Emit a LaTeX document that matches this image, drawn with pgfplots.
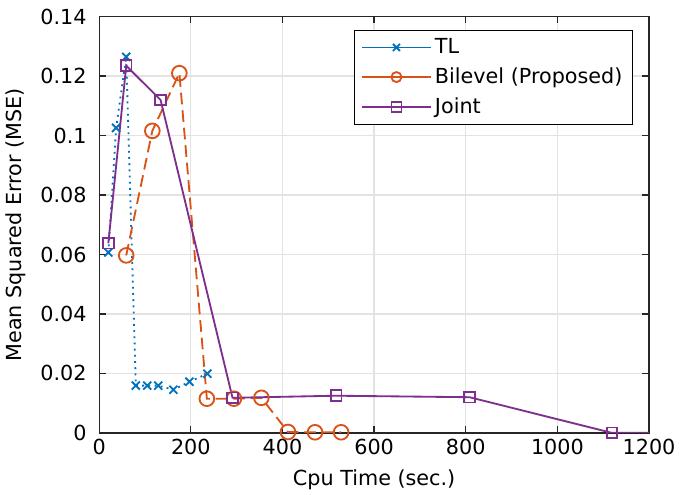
\documentclass[border=0pt]{standalone}
\usepackage{fontspec}
\setmainfont{DejaVu Sans}
\usepackage{pgfplots}
\pgfplotsset{compat=1.18}

\definecolor{mblue}{rgb}{0,0.447,0.741}
\definecolor{morange}{rgb}{0.85,0.325,0.098}
\definecolor{mpurple}{rgb}{0.494,0.184,0.556}

\begin{document}
\begin{tikzpicture}
  \begin{axis}[
    scale only axis,
    width=329pt, height=249pt,
    xmin=0, xmax=1200, ymin=0, ymax=0.14,
    xtick={0,200,...,1200},
    ytick={0,0.02,0.04,0.06,0.08,0.1,0.12,0.14},
    scaled y ticks=false,
    /pgf/number format/assume math mode=true,
    ticklabel style={font=\fontsize{12.4}{14}\selectfont},
    yticklabel style={xshift=-4pt, /pgf/number format/.cd, fixed, precision=2},
    xticklabel style={/pgf/number format/.cd, 1000 sep={}},
    label style={font=\fontsize{12.4}{14}\selectfont},
    xlabel={Cpu Time (sec.)},
    ylabel={Mean Squared Error (MSE)},
    xlabel style={yshift=-2pt},
    ylabel style={yshift=2pt},
    grid=major, grid style={gray!22, line width=0.8pt},
    axis line style={black!85, line width=0.8pt},
    tick style={black!85, line width=0.8pt},
    tick align=inside,
    major tick length=4pt,
    clip=true,
    legend style={at={(0.971,0.969)}, anchor=north east, legend cell align=left,
      font=\fontsize{12.4}{14}\selectfont, draw=black, line width=0.8pt,
      inner xsep=4pt, inner ysep=3pt, row sep=3pt},
    legend image code/.code={
      \draw[#1] (0pt,0pt) -- (41pt,0pt);
      \draw[#1, solid, mark size=3pt, mark repeat=2, mark phase=2] plot coordinates {(0pt,0pt) (20.5pt,0pt) (41pt,0pt)};
    },
  ]
    \addplot[color=mblue, line width=1.1pt, dash pattern=on 1.1pt off 2.6pt,
      mark=x, mark size=3.4pt, mark options={solid}] coordinates {
      (20,0.0607) (37,0.1026) (59,0.1265) (80,0.0159) (105,0.0159)
      (129,0.0159) (162,0.0145) (197,0.0172) (236,0.0199)
    };
    \addlegendentry{TL}
    \addplot[color=morange, line width=1.1pt, dash pattern=on 7pt off 3.5pt,
      mark=o, mark size=4.4pt, mark options={solid}] coordinates {
      (59,0.0597) (116,0.1016) (175,0.121) (235,0.0115) (294,0.0115)
      (354,0.0118) (412,0.0003) (471,0.0002) (528,0.0002)
    };
    \addlegendentry{Bilevel (Proposed)}
    \addplot[color=mpurple, line width=1.1pt, mark=square, mark size=3.2pt,
      mark options={solid}] coordinates {
      (20,0.0638) (59,0.1235) (134,0.112) (291,0.0118) (517,0.0125)
      (808,0.0120) (1119,0) (1400,0)
    };
    \addlegendentry{Joint}
  \end{axis}
  % a little room above the axis, as in the reference
  \path (0,259pt);
\end{tikzpicture}
\end{document}
